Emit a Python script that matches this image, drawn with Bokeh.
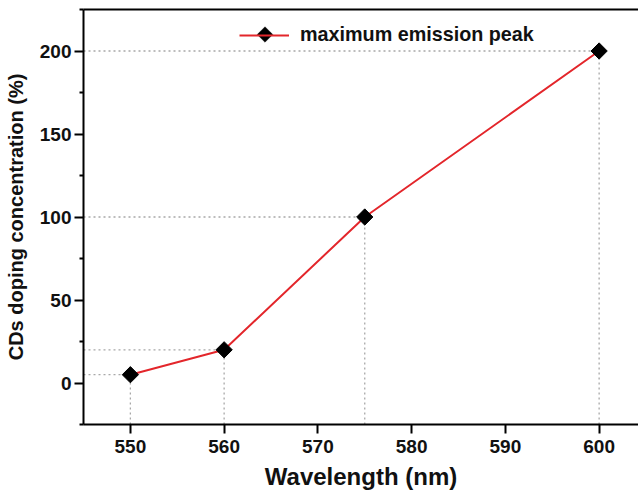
import numpy as np
from bokeh.plotting import figure
from bokeh.models import (LinearAxis, FixedTicker, Legend, LegendItem, Range1d,
                          ColumnDataSource, PolyAnnotation)
from bokeh.embed import file_html
from bokeh.resources import INLINE

# ---- data ----
wavelength = [550, 560, 575, 600]
concentration = [5, 20, 100, 200]
x_ticks = [550, 560, 570, 580, 590, 600]
y_ticks = [0, 50, 100, 150, 200]
y_minor = [-25, 25, 75, 125, 175, 225]
x_start, x_end = 545, 604.2
y_start, y_end = -25, 225

FONT = "Liberation Sans"

p = figure(width=638, height=493, output_backend="svg", toolbar_location=None,
           x_range=Range1d(x_start, x_end), y_range=Range1d(y_start, y_end),
           min_border_left=83, min_border_right=0, min_border_top=9,
           min_border_bottom=69)
p.grid.visible = False
p.outline_line_color = None
p.background_fill_color = "white"
p.border_fill_color = "white"

src = ColumnDataSource(dict(x=wavelength, y=concentration))

# dotted guide lines
n = len(wavelength)
p.segment(x0=[x_start] * n, y0=concentration, x1=wavelength, y1=concentration,
          line_color="#a8a8a8", line_width=1.3, line_dash="2 3")
p.segment(x0=wavelength, y0=[y_start] * n, x1=wavelength, y1=concentration,
          line_color="#a8a8a8", line_width=1.3, line_dash="2 3")

line_r = p.line(x="x", y="y", source=src, line_color="#e3262b", line_width=2)
pts = p.scatter(x="x", y="y", source=src, marker="square", angle=np.pi / 4,
                size=11.5, fill_color="black", line_color="black")

# axes
xa = p.xaxis[0]
xa.ticker = FixedTicker(ticks=x_ticks)
xa.axis_label = "Wavelength (nm)"
ya = p.yaxis[0]
ya.ticker = FixedTicker(ticks=y_ticks, minor_ticks=y_minor)
ya.axis_label = "CDs doping concentration (%)"

for ax in (xa, ya):
    ax.axis_line_width = 2
    ax.axis_line_color = "black"
    ax.major_tick_line_width = 2
    ax.minor_tick_line_width = 2
    ax.major_tick_line_color = "black"
    ax.minor_tick_line_color = "black"
    ax.major_tick_in = 0
    ax.major_tick_out = 9
    ax.minor_tick_in = 0
    ax.minor_tick_out = 4
    ax.major_label_text_font = FONT
    ax.major_label_text_font_style = "bold"
    ax.major_label_text_font_size = "19px"
    ax.major_label_text_color = "#111111"
    ax.axis_label_text_font = FONT
    ax.axis_label_text_font_style = "bold"
    ax.axis_label_text_color = "#111111"

xa.minor_tick_out = 0
xa.major_label_standoff = 6
xa.axis_label_standoff = 7
xa.axis_label_text_font_size = "24px"
ya.major_label_standoff = 3
ya.axis_label_standoff = 10
ya.axis_label_text_font_size = "20px"

top = LinearAxis(ticker=FixedTicker(ticks=[]), major_label_text_font_size="0px",
                 major_tick_out=0, minor_tick_out=0, major_label_standoff=0,
                 axis_line_width=2, axis_line_color="black")
p.add_layout(top, "above")

legend = Legend(items=[LegendItem(label="maximum emission peak",
                                  renderers=[line_r])],
                location=(156, 378), glyph_width=50, glyph_height=20,
                label_standoff=11, padding=0, margin=0,
                border_line_color=None, background_fill_alpha=0,
                label_text_font=FONT, label_text_font_style="bold",
                label_text_font_size="19.75px", label_text_color="#111111")
p.add_layout(legend)

# diamond symbol of the legend entry (same look as the data markers)
leg_cx, leg_cy, leg_r = 264.5, 34, 7.8
p.add_layout(PolyAnnotation(
    xs=[leg_cx - leg_r, leg_cx, leg_cx + leg_r, leg_cx],
    ys=[leg_cy, leg_cy - leg_r, leg_cy, leg_cy + leg_r],
    xs_units="canvas", ys_units="canvas",
    fill_color="black", fill_alpha=1, line_color="black", line_width=1))

open("out.html", "w").write(file_html(p, INLINE))
